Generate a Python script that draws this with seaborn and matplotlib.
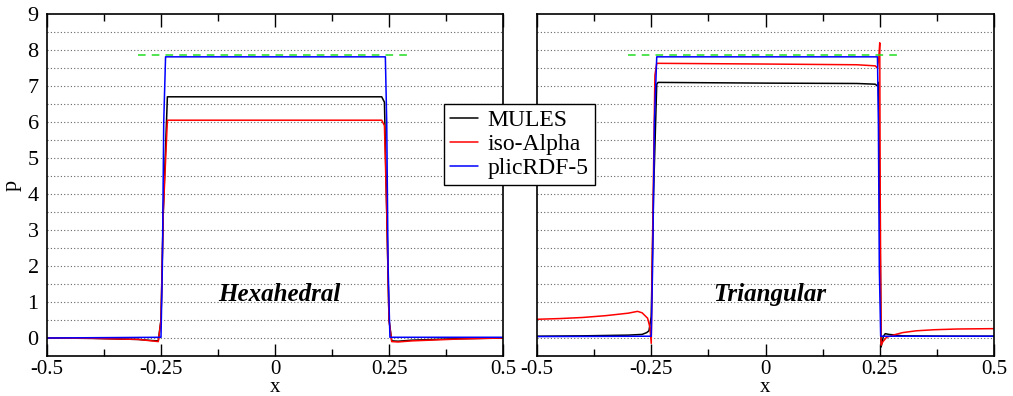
import numpy as np
import pandas as pd
import matplotlib
matplotlib.use("Agg")
import matplotlib.pyplot as plt
import seaborn as sns

sns.set_style("ticks")
plt.rcParams['font.family'] = ['Liberation Serif', 'DejaVu Serif']
plt.rcParams['text.color'] = 'black'
plt.rcParams['axes.labelcolor'] = 'black'
plt.rcParams['xtick.color'] = 'black'
plt.rcParams['ytick.color'] = 'black'

# Hexahedral mesh
hex_mules_x = [-0.5, -0.4, -0.3, -0.27, -0.256, -0.25, -0.245, -0.236, 0.0, 0.234, 0.24, 0.245, 0.25, 0.256, 0.27, 0.3, 0.4, 0.5]
hex_mules_y = [0.0, -0.01, -0.04, -0.07, -0.08, 0.5, 3.5, 6.7, 6.7, 6.7, 6.55, 3.5, 0.5, -0.08, -0.09, -0.06, -0.02, 0.0]
hex_iso_x = [-0.5, -0.4, -0.3, -0.27, -0.256, -0.25, -0.245, -0.236, 0.0, 0.234, 0.24, 0.245, 0.25, 0.256, 0.27, 0.3, 0.4, 0.5]
hex_iso_y = [0.0, -0.01, -0.04, -0.08, -0.1, 0.5, 3.5, 6.05, 6.05, 6.05, 5.9, 3.5, 0.5, -0.1, -0.11, -0.08, -0.03, 0.0]
hex_plic_x = [-0.5, -0.25, -0.247, -0.244, -0.24, 0.0, 0.242, 0.245, 0.248, 0.252, 0.5]
hex_plic_y = [0.0, 0.02, 2.0, 6.0, 7.81, 7.81, 7.81, 6.0, 2.0, 0.02, 0.02]

# Triangular mesh
tri_mules_x = [-0.5, -0.4, -0.3, -0.27, -0.26, -0.255, -0.25, -0.245, -0.238, -0.235, 0.0, 0.2, 0.24, 0.245, 0.247, 0.25, 0.253, 0.258, 0.262, 0.27, 0.3, 0.4, 0.5]
tri_mules_y = [0.05, 0.06, 0.08, 0.1, 0.15, 0.2, 0.6, 4.0, 7.05, 7.1, 7.08, 7.07, 7.05, 7.0, 7.1, 4.0, -0.25, 0.05, 0.12, 0.1, 0.06, 0.05, 0.05]
tri_iso_x = [-0.5, -0.45, -0.4, -0.35, -0.3, -0.28, -0.27, -0.262, -0.258, -0.253, -0.25, -0.248, -0.242, -0.238, 0.0, 0.2, 0.24, 0.245, 0.248, 0.25, 0.251, 0.253, 0.257, 0.265, 0.275, 0.285, 0.3, 0.33, 0.37, 0.42, 0.5]
tri_iso_y = [0.52, 0.54, 0.57, 0.62, 0.69, 0.74, 0.7, 0.6, 0.55, 0.3, -0.15, 2.0, 7.3, 7.63, 7.61, 7.59, 7.56, 7.5, 7.8, 8.2, 4.0, -0.2, -0.1, 0.02, 0.06, 0.1, 0.15, 0.2, 0.23, 0.25, 0.26]
tri_plic_x = [-0.5, -0.25, -0.247, -0.243, -0.238, 0.0, 0.245, 0.247, 0.249, 0.252, 0.5]
tri_plic_y = [0.04, 0.05, 2.0, 6.0, 7.81, 7.81, 7.81, 6.0, 2.0, 0.05, 0.05]

# analytical value
exact_x = [-0.3, 0.3]
exact_y = [7.85, 7.85]

labels = ['MULES', 'iso-Alpha', 'plicRDF-5']
colors = ['black', 'red', 'blue']
xticks = [-0.5, -0.25, 0, 0.25, 0.5]
xtick_labels = ['-0.5', '-0.25', '0', '0.25', '0.5']
yticks = list(range(0, 10))

fig = plt.figure(figsize=(10.13, 3.96), dpi=100)
ax1 = fig.add_axes([47/1013, 1-356/396, 456/1013, 342/396])
ax2 = fig.add_axes([537/1013, 1-356/396, 457/1013, 342/396])

panels = [
    (ax1, [(hex_mules_x, hex_mules_y), (hex_iso_x, hex_iso_y), (hex_plic_x, hex_plic_y)], 'Hexahedral'),
    (ax2, [(tri_mules_x, tri_mules_y), (tri_iso_x, tri_iso_y), (tri_plic_x, tri_plic_y)], 'Triangular'),
]

for ax, series, name in panels:
    for y in np.arange(0, 9, 0.5):
        ax.axhline(y, color='#666666', lw=0.8, ls=(0, (1, 2)), zorder=0)
    for (xs, ys), lab, c in zip(series, labels, colors):
        sns.lineplot(x=xs, y=ys, ax=ax, color=c, lw=1.1, label=lab, estimator=None, sort=False, legend=False)
    sns.lineplot(x=exact_x, y=exact_y, ax=ax, color='#22dd22', lw=1.1, ls=(0, (5, 4)), estimator=None, legend=False)
    ax.set_xlim(-0.5, 0.5)
    ax.set_ylim(-0.5, 9)
    ax.set_xticks(xticks)
    ax.set_xticklabels(xtick_labels)
    ax.set_xticks([-0.375, -0.125, 0.125, 0.375], minor=True)
    ax.tick_params(axis='x', which='major', direction='in', length=9, top=True, labelsize=15, width=1, pad=3)
    ax.tick_params(axis='x', which='minor', direction='in', length=5, top=True, width=1)
    ax.set_xlabel('x', fontsize=15, labelpad=-1)
    for s in ax.spines.values():
        s.set_linewidth(1.2)
        s.set_color('black')
    ax.text(0.01, 1.2, name, fontsize=18, fontweight='bold', fontstyle='italic', ha='center', va='center')

ax1.set_yticks(yticks)
ax1.tick_params(axis='y', direction='in', length=0, labelsize=16, pad=6)
ax1.set_ylabel('p', fontsize=16, labelpad=4)
ax2.set_yticks(yticks)
ax2.tick_params(axis='y', length=0, labelleft=False)

handles = ax1.get_lines()
leg_handles = [h for h in handles if h.get_label() in labels]
leg = fig.legend(leg_handles, labels, loc='upper left', bbox_to_anchor=(444/1013, 1-104/396),
                 fontsize=17, frameon=True, fancybox=False, edgecolor='black', framealpha=1,
                 handlelength=1.2, handletextpad=0.4, labelspacing=0.1, borderpad=0.25, borderaxespad=0)
leg.get_frame().set_linewidth(1.0)

fig.savefig('out.png', dpi=100)
